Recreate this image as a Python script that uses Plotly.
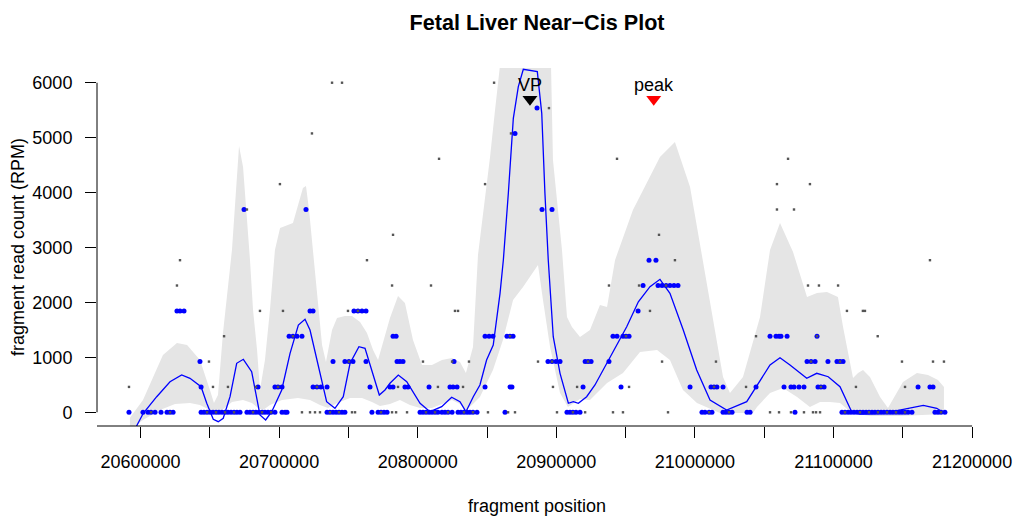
import plotly.graph_objects as go

# ---------------- data ----------------
# blue points: fragment position (bp) and read count (RPM)
blue_pos = [
    # 0 RPM
    20591700, 20601800, 20605400, 20607600, 20610500, 20614800, 20619100, 20621300, 20623500,
    20643700, 20645800, 20648000, 20650200, 20652300, 20654500, 20656600, 20658800, 20661000,
    20663100, 20665300, 20667500, 20669600, 20671800, 20676800, 20679000, 20681200, 20683300,
    20685500, 20687700, 20689800, 20692000, 20694200, 20697000, 20702100, 20704300, 20705700,
    20734600, 20736700, 20738900, 20741100, 20743200, 20745400, 20747500, 20767000, 20771400,
    20773500, 20775700, 20777900, 20801700, 20803800, 20806000, 20808200, 20810300, 20812500,
    20814600, 20817500, 20819700, 20821900, 20824800, 20829100, 20831200, 20833400, 20835600,
    20837700, 20839900, 20842800, 20863000, 20907700, 20909900, 20912000, 20914200, 20917100,
    21005100, 21007300, 21010200, 21012300, 21020300, 21022400, 21024600, 21026800, 21037600,
    21039800, 21072200, 21106100, 21108300, 21110500, 21112600, 21114800, 21117000, 21119100,
    21121300, 21123500, 21125600, 21127800, 21129900, 21132100, 21134300, 21136400, 21138600,
    21140800, 21142900, 21145100, 21147300, 21149400, 21151600, 21153800, 21156600, 21173200,
    21175400, 21177600, 21180400,
    # 462 RPM
    20643700, 20684800, 20697000, 20699200, 20702100, 20724500, 20727300, 20730200, 20734600,
    20765600, 20780000, 20782200, 20790800, 20793000, 20808200, 20823300, 20825500, 20828400,
    20848600, 20866600, 20868000, 20919300, 20946700, 20996500, 21011600, 21013800, 21015900,
    21020300, 21044100, 21064300, 21069300, 21071500, 21075100, 21078700, 21088800, 21090900,
    21093200, 21161000, 21169600, 21171800,
    # 923 RPM
    20642900, 20738900, 20747500, 20750400, 20753300, 20762700, 20785100, 20787200, 20789400,
    20826200, 20894000, 20896900, 20899800, 20902700, 20920800, 20922900, 20925100, 20938000,
    21080900, 21083800, 21086700, 21096000, 21102500, 21104700, 21106900,
    # 1385 RPM
    20707200, 20710000, 20712900, 20716500, 20782200, 20784400, 20848600, 20851500, 20854300,
    20864400, 20866600, 20868800, 20940900, 20943800, 20948100, 20950300, 20952500, 21054200,
    21058500, 21060700, 21062100, 21066500, 21088100,
    # 1846 RPM
    20626300, 20628500, 20631400, 20722300, 20724500, 20754000, 20756900, 20759800, 20762700,
    20959000,
    # 2308 RPM
    20962600, 20973400, 20976300, 20979200, 20982000, 20984900, 20987800,
    # 2769 RPM
    20966900, 20971900,
    # 3692 RPM
    20674700, 20719400, 20889700, 20896900,
    # 5077 RPM
    20870200,
    # 5538 RPM
    20886100,
]
blue_rpm = (
    [0] * 111
    + [462] * 40
    + [923] * 25
    + [1385] * 23
    + [1846] * 10
    + [2308] * 7
    + [2769] * 2
    + [3692] * 4
    + [5077] * 1
    + [5538] * 1
)

# grey dots: fragment position (bp) and read count (RPM)
grey_pos = [
    # 0 RPM
    20716500, 20722300, 20725900, 20729500, 20752600, 20754800, 20781500, 20784400, 20792300,
    20850700, 20865200, 20870200, 20900500, 20920800, 20940900, 20948100, 20980600, 21054200,
    21060700, 21069300, 21078700, 21085200, 21087400, 21090300, 20607600, 20621300, 20648000,
    20654500, 20661000, 20667500, 20681200, 20687700, 20694200, 20736700, 20743200, 20773500,
    20806000, 20812500, 20821900, 20833400, 20839900, 20912000, 21010200, 21024600, 21108300,
    21119100, 21125600, 21132100, 21138600, 21145100, 21151600, 21177600,
    # 462 RPM
    20591700, 20652300, 20663100, 20683300, 20785800, 20814600, 20832700, 20897600, 20915000,
    20952500, 21036900, 21116200, 21151600, 20699200, 20727300, 21013800, 21090900,
    # 923 RPM
    20649400, 20803800, 20824800, 20837000, 20886800, 20976300, 21015200, 21149400, 21171800,
    21179700, 20750400, 20896900, 20922900, 21083800, 21104700,
    # 1385 RPM
    20660300, 21131900, 21044100, 20710000, 20866600, 21088100, 20950300,
    # 1846 RPM
    20686200, 20702800, 20749700, 20826900, 20829100, 20967600, 21109700, 21121200, 21122700,
    20756900,
    # 2308 RPM
    20626300, 20781500, 20809600, 20938000, 20959700, 21081600, 21089500, 21103300, 20979200,
    # 2769 RPM
    20628500, 20763400, 20985600, 21169600,
    # 3231 RPM
    20782200, 20974100,
    # 3692 RPM
    20676800, 21059200, 21071500,
    # 4154 RPM
    20700600, 20848600, 21059200, 21083000,
    # 4615 RPM
    20815400, 20943800, 21067200,
    # 5077 RPM
    20723700, 20867300,
    # 5538 RPM
    20894700,
    # 6000 RPM
    20738200, 20745400, 20855100,
]
grey_rpm = (
    [0] * 52
    + [462] * 17
    + [923] * 15
    + [1385] * 7
    + [1846] * 10
    + [2308] * 9
    + [2769] * 4
    + [3231] * 2
    + [3692] * 3
    + [4154] * 4
    + [4615] * 3
    + [5077] * 2
    + [5538] * 1
    + [6000] * 3
)

# smoothed fit (blue line)
fit_pos = [
    20592400, 20596800, 20602000, 20611700, 20621300, 20629700, 20635700, 20643700, 20647800,
    20652500, 20656100, 20659700, 20664600, 20669400, 20674200, 20680200, 20683800, 20686200,
    20690300, 20694700, 20701900, 20707900, 20713900, 20718700, 20722300, 20729500, 20734300,
    20740300, 20746300, 20751200, 20757600, 20762000, 20768000, 20772300, 20776400, 20780000,
    20786000, 20792100, 20801700, 20808900, 20817300, 20824500, 20830500, 20834800, 20840100,
    20844900, 20849700, 20854500, 20859400, 20861800, 20865400, 20869000, 20872600, 20876200,
    20886300, 20889500, 20891800, 20894200, 20897800, 20902700, 20908700, 20912300, 20915900,
    20921900, 20927900, 20936400, 20950800, 20959200, 20967600, 20974800, 20982000, 20991600,
    21001300, 21010900, 21022900, 21037400, 21054200, 21061400, 21068600, 21080700, 21087900,
    21096200, 21104700, 21113100, 21119100, 21135900, 21150400, 21164800, 21174500, 21179700,
]
fit_rpm = [
    -480, -266, -18, 284, 557, 679, 619, 466, 164,
    -127, -171, -109, 284, 892, 965, 739, 224, -49,
    -140, 11, 406, 1074, 1589, 1693, 1498, 710, 193,
    73, 284, 892, 1194, 1165, 648, 315, 406, 528,
    679, 557, 164, 11, 102, 273, 193, 11, 284,
    497, 952, 1225, 2166, 2773, 3987, 5352, 5928, 6244,
    6201, 5443, 3987, 2773, 1376, 710, 164, 193, 164,
    284, 497, 892, 1558, 2013, 2287, 2421, 2166, 1498,
    770, 224, 42, 193, 861, 994, 861, 619, 710,
    648, 466, 11, -31, -18, 55, 127, 73, -7,
]

# confidence band, upper edge
band_up_pos = [
    20592400, 20601800, 20616200, 20626300, 20633600, 20642900, 20650100, 20653000, 20655900,
    20659500, 20666000, 20668900, 20671100, 20674000, 20676800, 20679000, 20681200, 20684100,
    20686200, 20689800, 20693400, 20697000, 20700700, 20710000, 20717200, 20719400, 20721600,
    20724500, 20728100, 20731000, 20733800, 20738200, 20741800, 20747500, 20752600, 20758400,
    20763400, 20767800, 20771400, 20775700, 20780000, 20785800, 20790800, 20796600, 20803100,
    20810300, 20817500, 20824700, 20830500, 20834800, 20839900, 20843500, 20848600, 20852200,
    20855800, 20859400, 20861500, 20894000, 20896200, 20897600, 20901200, 20904100, 20907700,
    20911300, 20917100, 20924300, 20931500, 20936600, 20942400, 20955300, 20974800, 20985600,
    20996500, 21005100, 21013100, 21020300, 21025300, 21034700, 21047000, 21054200, 21061400,
    21070800, 21080900, 21088100, 21095300, 21103200, 21106900, 21114100, 21117700, 21121300,
    21126300, 21133600, 21139300, 21145800, 21150100, 21160200, 21168200, 21175400, 21179700,
]
band_up_rpm = [
    -100, 224, 1042, 1260, 1225, 952, 406, 169, 315,
    1444, 2955, 4047, 4848, 4466, 3592, 2773, 1863, 1134,
    406, 952, 1863, 2955, 3355, 3446, 4083, 4120, 3683,
    2955, 2044, 1225, 916, 1498, 1717, 1753, 1753, 1644,
    1444, 1134, 952, 1316, 1717, 2118, 1990, 1316, 861,
    861, 952, 989, 916, 716, 1189, 2864, 3865, 4648,
    5503, 6300, 6800, 6800, 6300, 4593, 3683, 2955, 1735,
    1553, 1371, 1498, 1953, 1917, 2773, 3683, 4648, 4921,
    4101, 2864, 1735, 643, 351, 643, 1735, 2955, 3446,
    2918, 2099, 2172, 2190, 2099, 1553, 625, 716, 770,
    643, 279, 78, 351, 552, 716, 679, 588, 461,
]

# confidence band, lower edge
band_lo_pos = [
    20592400, 20601800, 20614100, 20624900, 20635700, 20642900, 20650100, 20653800, 20658800,
    20666000, 20674000, 20680400, 20684800, 20688400, 20693400, 20702100, 20713600, 20722300,
    20729500, 20735300, 20741800, 20751200, 20759800, 20767000, 20772800, 20780000, 20787200,
    20794400, 20801700, 20810300, 20817500, 20824700, 20830500, 20834800, 20839900, 20844900,
    20854300, 20861500, 20868800, 20876000, 20886800, 20890400, 20895500, 20902700, 20908400,
    20917100, 20924300, 20936600, 20948100, 20960400, 20972700, 20982000, 20991400, 21001500,
    21018100, 21041900, 21044800, 21054200, 21063600, 21073700, 21083000, 21090300, 21097500,
    21104700, 21113300, 21126300, 21148000, 21179700,
]
band_lo_rpm = [
    -322, -140, 42, 151, 169, 133, 42, -31, 42,
    188, 224, 169, 78, 42, 133, 224, 260, 224,
    133, 78, 169, 260, 260, 188, 115, 151, 224,
    133, 78, 78, 151, 224, 151, 42, 151, 279,
    770, 1316, 2044, 2281, 2682, 2044, 1189, 351, 97,
    242, 224, 533, 716, 1098, 1134, 952, 406, 169,
    -13, -13, 97, 351, 443, 279, 97, 188, 188,
    169, -13, -67, -67, -31,
]

# viewpoint and peak markers
vp_pos = 20881000
peak_pos = 20970300
marker_rpm = 5700
marker_label_rpm = 5960

# axes
x_tick_vals = [20600000, 20650000, 20700000, 20750000, 20800000, 20850000, 20900000,
               20950000, 21000000, 21050000, 21100000, 21150000, 21200000]
x_tick_text = ["20600000", "", "20700000", "", "20800000", "", "20900000",
               "", "21000000", "", "21100000", "", "21200000"]
y_tick_vals = [0, 1000, 2000, 3000, 4000, 5000, 6000]
y_tick_text = ["0", "1000", "2000", "3000", "4000", "5000", "6000"]
x_range = [20568616, 21203536]
y_range = [-249.4, 6268]

FONT = "Liberation Sans, Arial, Helvetica, sans-serif"

fig = go.Figure()

# band polygon
fig.add_trace(go.Scatter(
    x=band_up_pos + band_lo_pos[::-1],
    y=band_up_rpm + band_lo_rpm[::-1],
    fill="toself", fillcolor="#E5E5E5",
    line=dict(width=0, color="#E5E5E5"),
    mode="lines", hoverinfo="skip", name="band",
))

# fit line
fig.add_trace(go.Scatter(
    x=fit_pos, y=fit_rpm, mode="lines",
    line=dict(color="#0000FF", width=1.3), name="fit",
))

# blue points
fig.add_trace(go.Scatter(
    x=blue_pos, y=blue_rpm, mode="markers",
    marker=dict(color="#0000FF", size=5, line=dict(width=0)),
    name="fragments", cliponaxis=True,
))

# grey dots
fig.add_trace(go.Scatter(
    x=grey_pos, y=grey_rpm, mode="markers",
    marker=dict(color="#555555", size=2.4, symbol="square", line=dict(width=0)),
    name="all", cliponaxis=True,
))

# VP and peak triangles
fig.add_trace(go.Scatter(
    x=[vp_pos], y=[marker_rpm], mode="markers",
    marker=dict(color="black", size=13, symbol="triangle-down", line=dict(width=0)),
    name="VP",
))
fig.add_trace(go.Scatter(
    x=[peak_pos], y=[marker_rpm], mode="markers",
    marker=dict(color="#FF0000", size=13, symbol="triangle-down", line=dict(width=0)),
    name="peak",
))

fig.add_annotation(x=vp_pos, y=marker_label_rpm, text="VP", showarrow=False,
                   font=dict(size=18, color="black", family=FONT), yanchor="middle")
fig.add_annotation(x=peak_pos, y=marker_label_rpm, text="peak", showarrow=False,
                   font=dict(size=18, color="black", family=FONT), yanchor="middle")

# y axis title (rotated, R style position)
fig.add_annotation(xref="paper", yref="paper", x=(18 - 97) / 880, y=0.5,
                   text="fragment read count (RPM)", textangle=-90, showarrow=False,
                   xanchor="center", yanchor="middle",
                   font=dict(size=18, color="black", family=FONT))

# axis lines (R style: only over tick span)
fig.add_shape(type="line", xref="x", yref="paper", x0=x_range[0], x1=x_tick_vals[-1],
              y0=0, y1=0, line=dict(color="black", width=1))
fig.add_shape(type="line", xref="paper", yref="y", x0=0, x1=0,
              y0=y_tick_vals[0], y1=y_tick_vals[-1], line=dict(color="black", width=1))

fig.update_layout(
    width=1018, height=516,
    margin=dict(l=97, r=41, t=68, b=90, autoexpand=False),
    plot_bgcolor="white", paper_bgcolor="white",
    showlegend=False,
    font=dict(family=FONT, size=18, color="black"),
    title=dict(text="<b>Fetal Liver Near−Cis Plot</b>", x=0.5, xref="paper", xanchor="center",
               y=1 - 22 / 516, yref="container", yanchor="middle",
               font=dict(size=21.6, family=FONT, color="black")),
    xaxis=dict(range=x_range, showgrid=False, zeroline=False, showline=False,
               ticks="outside", ticklen=11, tickwidth=1, tickcolor="black",
               tickvals=x_tick_vals, ticktext=x_tick_text, tickfont=dict(size=18),
               ticklabelstandoff=8,
               title=dict(text="fragment position", standoff=33, font=dict(size=18))),
    yaxis=dict(range=y_range, showgrid=False, zeroline=False, showline=False,
               ticks="outside", ticklen=11, tickwidth=1, tickcolor="black",
               tickvals=y_tick_vals, ticktext=y_tick_text, tickfont=dict(size=18),
               ticklabelstandoff=9),
)

fig.write_html(
    "out.html",
    config={"displayModeBar": False},
    post_script="document.body.style.margin='0';document.body.style.overflow='hidden';",
)
